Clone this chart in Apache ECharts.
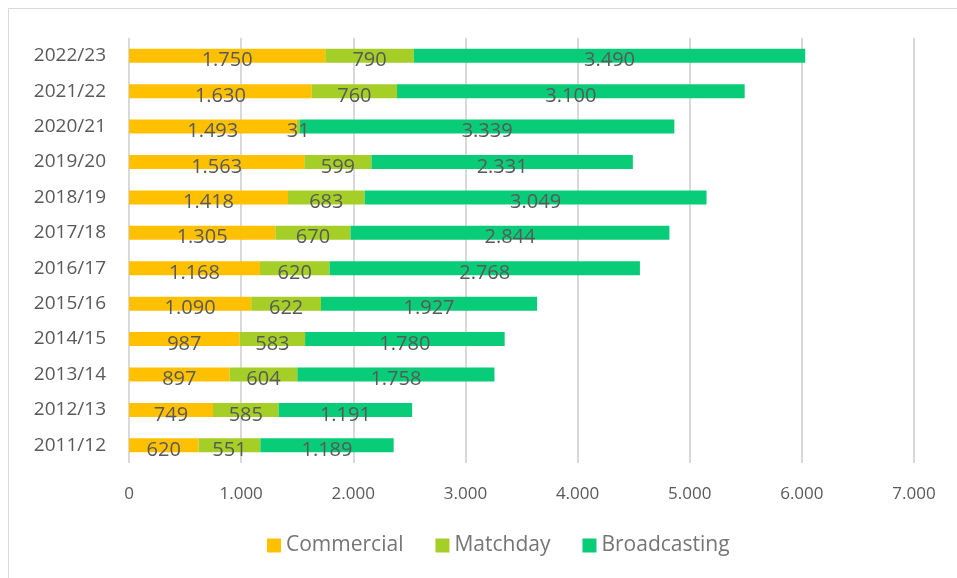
<!DOCTYPE html>
<html>
<head>
<meta charset="utf-8">
<script src="https://cdn.jsdelivr.net/npm/echarts@6/dist/echarts.min.js"></script>
<style>
html,body{margin:0;padding:0;background:#fff;}
#c{width:957px;height:578px;}
</style>
</head>
<body>
<div id="c"></div>
<script>
const categories = ['2011/12','2012/13','2013/14','2014/15','2015/16','2016/17','2017/18','2018/19','2019/20','2020/21','2021/22','2022/23'];
const commercial = [620,749,897,987,1090,1168,1305,1418,1563,1493,1630,1750];
const matchday = [551,585,604,583,622,620,670,683,599,31,760,790];
const broadcasting = [1189,1191,1758,1780,1927,2768,2844,3049,2331,3339,3100,3490];
const xTicks = [0,1000,2000,3000,4000,5000,6000,7000];

function fmt(v){ return String(v).replace(/\B(?=(\d{3})+(?!\d))/g,'.'); }

const FONT = '"Open Sans", sans-serif';
const labelStyle = {
  show: true, position: 'inside', offset: [0,5],
  color: '#595959', fontSize: 20, fontFamily: FONT,
  formatter: p => fmt(p.value)
};
function mk(name, data, color){
  return { name, type: 'bar', stack: 'total', data, barWidth: 14,
    itemStyle: { color }, label: labelStyle, emphasis: { disabled: true } };
}
const chart = echarts.init(document.getElementById('c'));
chart.setOption({
  animation: false,
  backgroundColor: '#fff',
  graphic: [{ type: 'rect', shape: { x: 8.5, y: 8.5, width: 1000, height: 1000 },
    style: { fill: 'none', stroke: '#d9d9d9', lineWidth: 1 }, silent: true }],
  grid: { left: 129, right: 43, top: 38, bottom: 115, containLabel: false },
  legend: {
    data: ['Commercial','Matchday','Broadcasting'],
    bottom: 17, left: 262, itemWidth: 14, itemHeight: 14, itemGap: 32,
    icon: 'rect',
    textStyle: { color: '#757575', fontSize: 21, fontFamily: FONT }
  },
  xAxis: {
    type: 'value', min: 0, max: 7000, interval: 1000,
    axisLine: { show: false }, axisTick: { show: false },
    splitLine: { lineStyle: { color: '#d9d9d9', width: 2 } },
    axisLabel: { color: '#595959', fontSize: 17, fontFamily: FONT, margin: 23,
      formatter: v => xTicks.includes(v) ? fmt(v) : '' }
  },
  yAxis: {
    type: 'category', data: categories,
    axisLine: { show: false }, axisTick: { show: false },
    axisLabel: { color: '#595959', fontSize: 19, fontFamily: FONT, margin: 23 }
  },
  series: [
    mk('Commercial', commercial, '#FFC000'),
    mk('Matchday', matchday, '#A5CF27'),
    mk('Broadcasting', broadcasting, '#08CC78')
  ]
});
</script>
</body>
</html>
